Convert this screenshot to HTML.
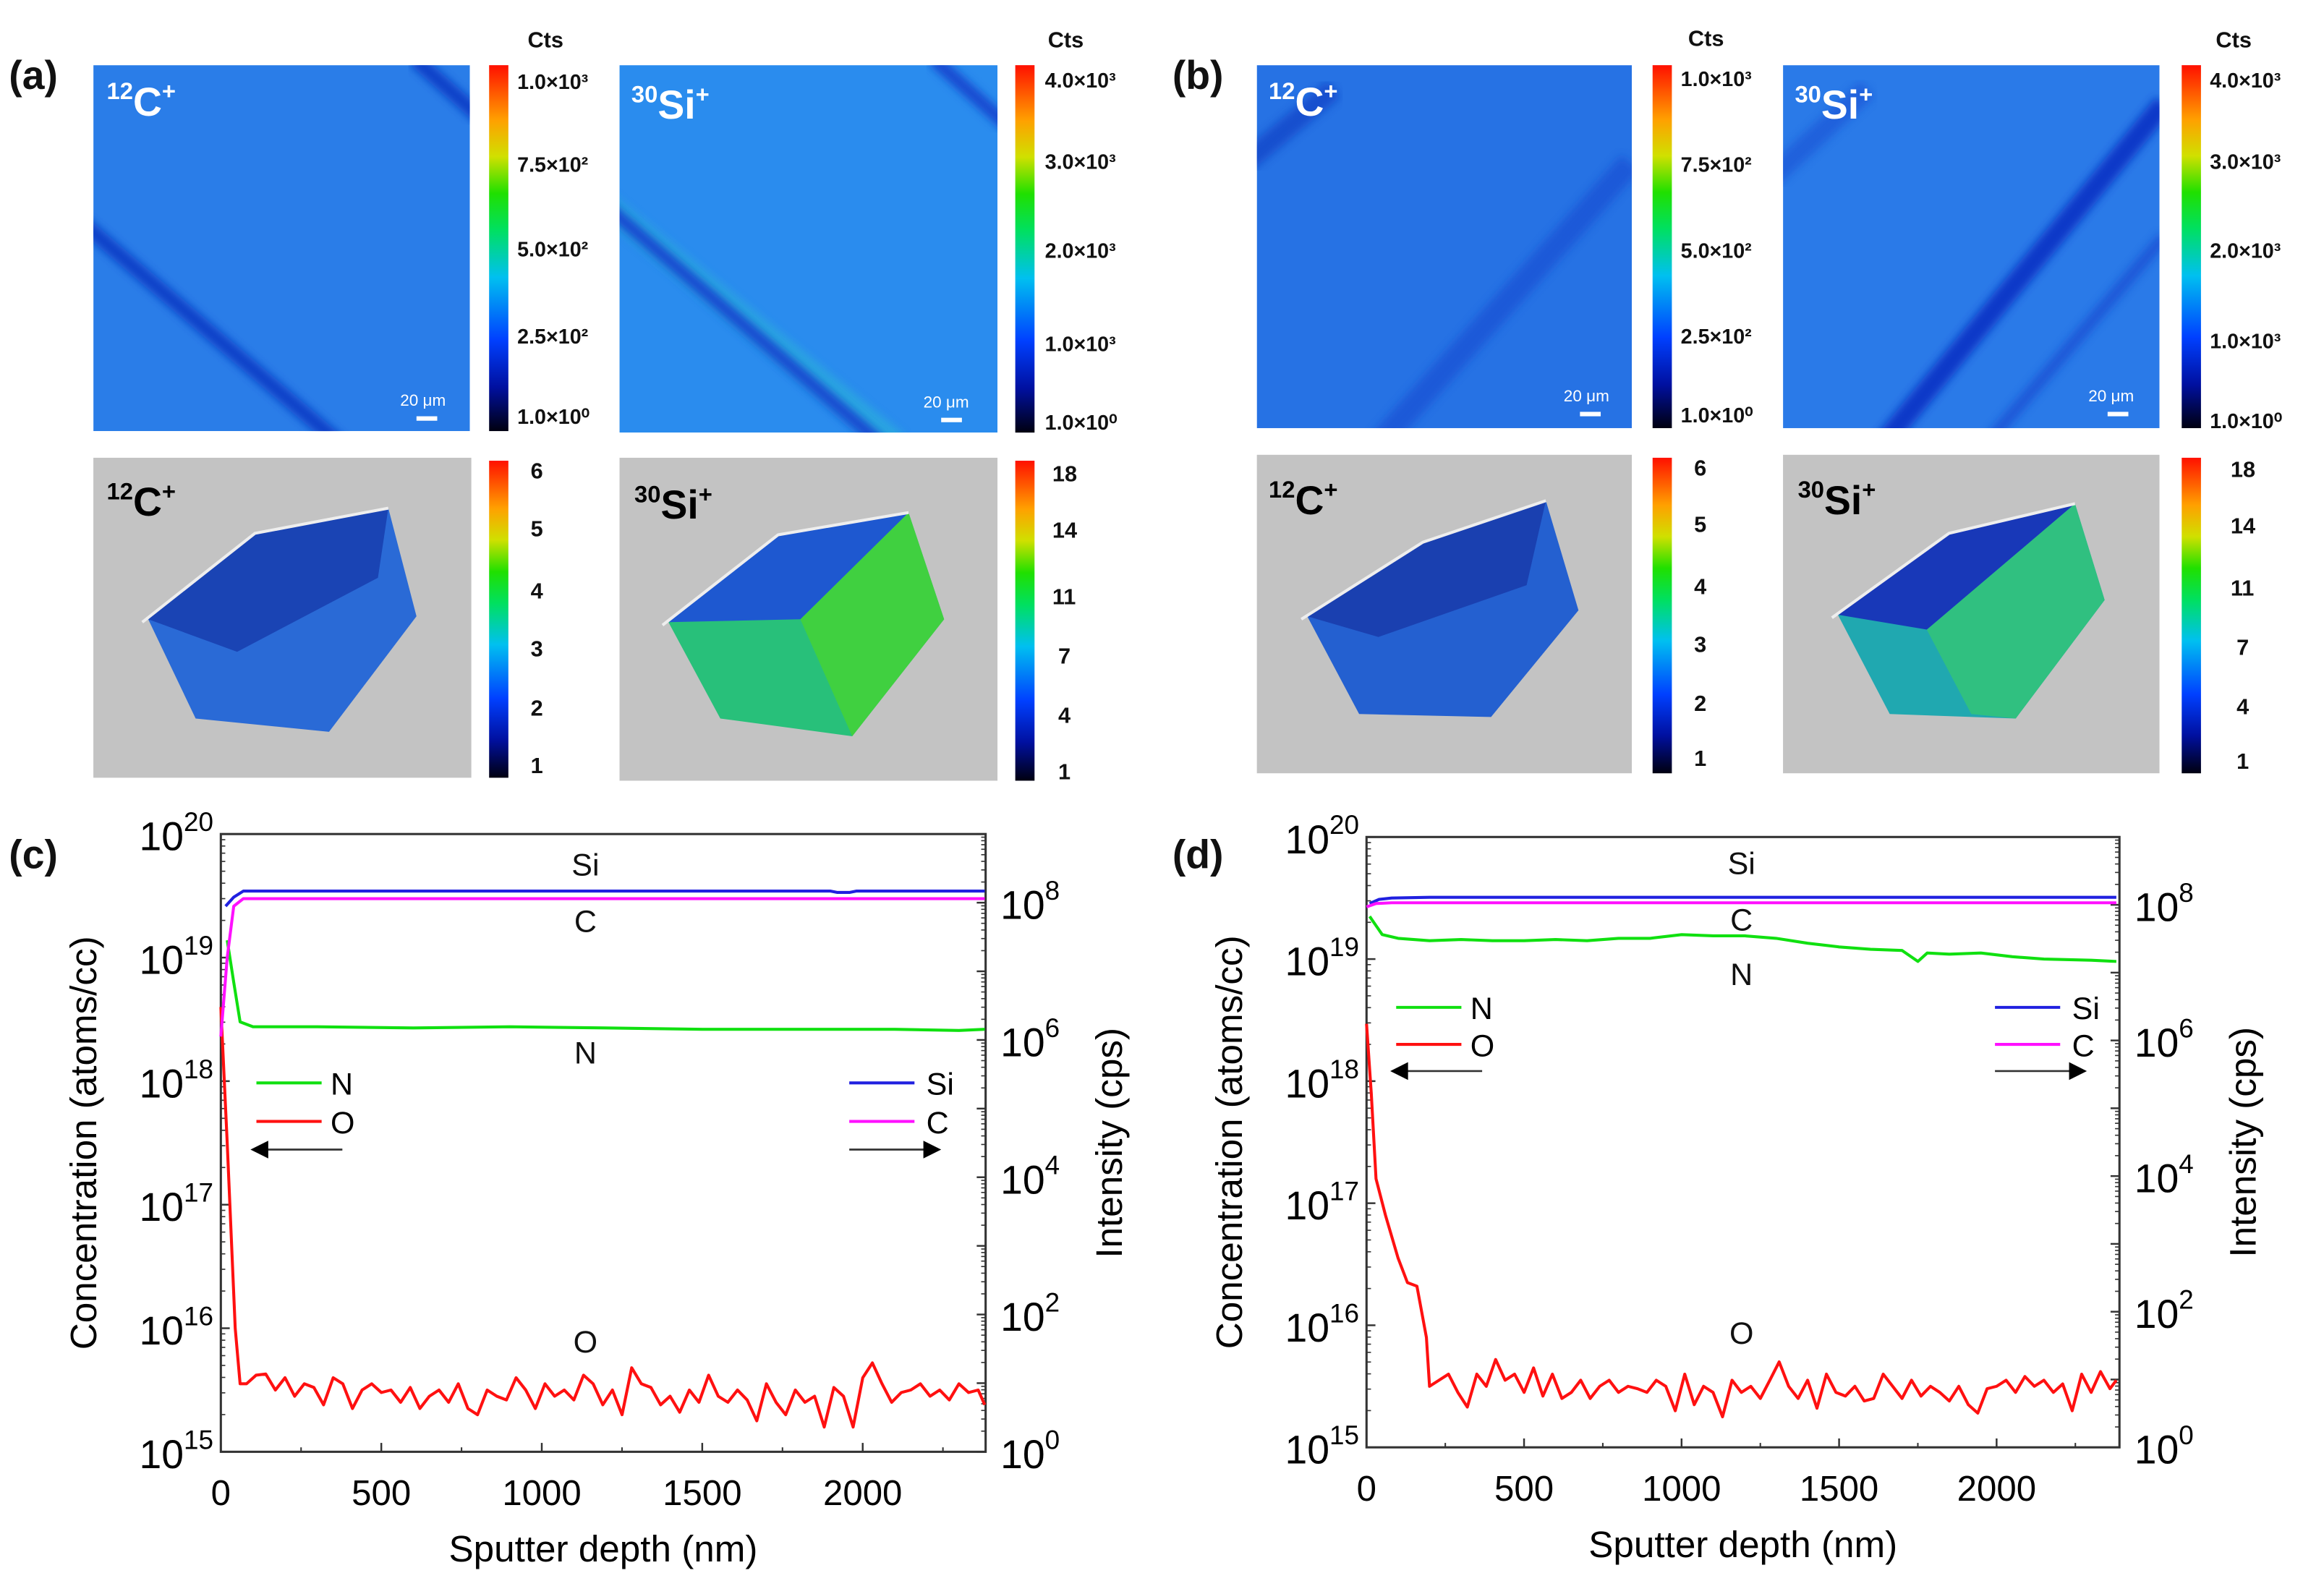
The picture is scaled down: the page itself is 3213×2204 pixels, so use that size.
<!DOCTYPE html>
<html><head><meta charset="utf-8"><style>
html,body{margin:0;padding:0;background:#fff;}
svg{display:block;font-family:"Liberation Sans",Arial,sans-serif;}
.tk{font-size:24px;fill:#000;}
.cb{font-size:14px;font-weight:bold;fill:#111;}
.cb3{font-size:15px;font-weight:bold;fill:#111;}
.pl{font-size:27px;font-weight:bold;fill:#111;}
</style></head><body>
<svg id="fig" width="3213" height="2204" viewBox="0 0 1568 1076" preserveAspectRatio="none">
<defs>
<linearGradient id="jet" x1="0" y1="1" x2="0" y2="0">
<stop offset="0" stop-color="#000010"/><stop offset="0.12" stop-color="#0010a0"/><stop offset="0.25" stop-color="#0040ff"/><stop offset="0.42" stop-color="#00c0f0"/><stop offset="0.55" stop-color="#00e060"/><stop offset="0.65" stop-color="#20e000"/><stop offset="0.75" stop-color="#d0e000"/><stop offset="0.85" stop-color="#ffa000"/><stop offset="1" stop-color="#ff1000"/>
</linearGradient>
<filter id="blur"><feGaussianBlur stdDeviation="3"/></filter>
<clipPath id="ca1"><rect x="63" y="44" width="254" height="247"/></clipPath>
<clipPath id="ca2"><rect x="418" y="44" width="255" height="248"/></clipPath>
<clipPath id="cb1"><rect x="848" y="44" width="253" height="245"/></clipPath>
<clipPath id="cb2"><rect x="1203" y="44" width="254" height="245"/></clipPath>
</defs>

<text class="pl" x="6" y="60">(a)</text>
<text class="pl" x="791" y="60">(b)</text>
<text class="pl" x="6" y="586">(c)</text>
<text class="pl" x="791" y="586">(d)</text>

<g clip-path="url(#ca1)">
<rect x="63" y="44" width="254" height="247" fill="#2a7de8"/>
<line x1="55" y1="150" x2="230" y2="300" stroke="#1040c8" stroke-width="10" filter="url(#blur)"/>
<line x1="280" y1="40" x2="325" y2="80" stroke="#1040c8" stroke-width="10" filter="url(#blur)"/>
</g>
<text x="72" y="78" font-size="27" font-weight="bold" fill="#fff"><tspan font-size="16" dy="-11">12</tspan><tspan dy="11">C</tspan><tspan font-size="16" dy="-11">+</tspan></text>
<text x="270" y="274" font-size="11" fill="#fff">20 μm</text><rect x="281" y="281" width="14" height="3" fill="#fff"/>
<g clip-path="url(#ca2)">
<rect x="418" y="44" width="255" height="248" fill="#2a8cee"/>
<line x1="405" y1="135" x2="605" y2="300" stroke="#2ab8d8" stroke-width="16" filter="url(#blur)" opacity="0.6"/>
<line x1="410" y1="140" x2="595" y2="300" stroke="#1448d0" stroke-width="9" filter="url(#blur)"/>
<line x1="630" y1="40" x2="680" y2="85" stroke="#1448d0" stroke-width="9" filter="url(#blur)"/>
</g>
<text x="426" y="80" font-size="27" font-weight="bold" fill="#fff"><tspan font-size="16" dy="-11">30</tspan><tspan dy="11">Si</tspan><tspan font-size="16" dy="-11">+</tspan></text>
<text x="623" y="275" font-size="11" fill="#fff">20 μm</text><rect x="635" y="282" width="14" height="3" fill="#fff"/>

<g clip-path="url(#cb1)">
<rect x="848" y="44" width="253" height="245" fill="#2672e4"/>
<line x1="840" y1="110" x2="900" y2="60" stroke="#1038c0" stroke-width="14" filter="url(#blur)" opacity="0.6"/>
<line x1="930" y1="300" x2="1100" y2="110" stroke="#1448d0" stroke-width="16" filter="url(#blur)" opacity="0.6"/>
</g>
<text x="856" y="78" font-size="27" font-weight="bold" fill="#fff"><tspan font-size="16" dy="-11">12</tspan><tspan dy="11">C</tspan><tspan font-size="16" dy="-11">+</tspan></text>
<text x="1055" y="271" font-size="11" fill="#fff">20 μm</text><rect x="1066" y="278" width="14" height="3" fill="#fff"/>
<g clip-path="url(#cb2)">
<rect x="1203" y="44" width="254" height="245" fill="#2a7ae8"/>
<line x1="1270" y1="300" x2="1460" y2="70" stroke="#1038c8" stroke-width="14" filter="url(#blur)"/>
<line x1="1340" y1="300" x2="1460" y2="160" stroke="#1448d0" stroke-width="8" filter="url(#blur)" opacity="0.7"/>
<line x1="1195" y1="120" x2="1260" y2="60" stroke="#1448d0" stroke-width="14" filter="url(#blur)" opacity="0.5"/>
</g>
<text x="1211" y="80" font-size="27" font-weight="bold" fill="#fff"><tspan font-size="16" dy="-11">30</tspan><tspan dy="11">Si</tspan><tspan font-size="16" dy="-11">+</tspan></text>
<text x="1409" y="271" font-size="11" fill="#fff">20 μm</text><rect x="1422" y="278" width="14" height="3" fill="#fff"/>

<rect x="63" y="309" width="255" height="216" fill="#c3c3c3"/>
<polygon points="100,418 172,360 262,343 281,416 222,494 132,485" fill="#2a6ad6"/>
<polygon points="100,418 172,360 262,343 255,390 160,440" fill="#1a44b4"/>
<polyline points="96,420 172,360 262,343" fill="none" stroke="#eee" stroke-width="2"/>
<text x="72" y="348" font-size="27" font-weight="bold" fill="#000"><tspan font-size="16" dy="-11">12</tspan><tspan dy="11">C</tspan><tspan font-size="16" dy="-11">+</tspan></text>

<rect x="418" y="309" width="255" height="218" fill="#c3c3c3"/>
<polygon points="451,420 525,361 613,346 637,418 575,497 486,485" fill="#28c07a"/>
<polygon points="540,418 613,346 637,418 575,497" fill="#40d040"/>
<polygon points="451,420 525,361 613,346 540,418" fill="#1e58d0"/>
<polyline points="447,422 525,361 613,346" fill="none" stroke="#eee" stroke-width="2"/>
<text x="428" y="350" font-size="27" font-weight="bold" fill="#000"><tspan font-size="16" dy="-11">30</tspan><tspan dy="11">Si</tspan><tspan font-size="16" dy="-11">+</tspan></text>

<rect x="848" y="307" width="253" height="215" fill="#c3c3c3"/>
<polygon points="882,416 960,366 1043,338 1065,412 1006,484 917,482" fill="#2460d0"/>
<polygon points="882,416 960,366 1043,338 1030,395 930,430" fill="#1a40b0"/>
<polyline points="878,418 960,366 1043,338" fill="none" stroke="#eee" stroke-width="2"/>
<text x="856" y="347" font-size="27" font-weight="bold" fill="#000"><tspan font-size="16" dy="-11">12</tspan><tspan dy="11">C</tspan><tspan font-size="16" dy="-11">+</tspan></text>

<rect x="1203" y="307" width="254" height="215" fill="#c3c3c3"/>
<polygon points="1240,415 1315,360 1400,340 1420,405 1360,485 1275,482" fill="#20a8b0"/>
<polygon points="1300,425 1400,340 1420,405 1360,485 1330,482" fill="#30c080"/>
<polygon points="1240,415 1315,360 1400,340 1300,425" fill="#1838b8"/>
<polyline points="1236,417 1315,360 1400,340" fill="none" stroke="#eee" stroke-width="2"/>
<text x="1213" y="347" font-size="27" font-weight="bold" fill="#000"><tspan font-size="16" dy="-11">30</tspan><tspan dy="11">Si</tspan><tspan font-size="16" dy="-11">+</tspan></text>

<g>
<rect x="330" y="44" width="13" height="247" fill="url(#jet)"/>
<rect x="685" y="44" width="13" height="248" fill="url(#jet)"/>
<rect x="1115" y="44" width="13" height="245" fill="url(#jet)"/>
<rect x="1472" y="44" width="13" height="245" fill="url(#jet)"/>
<rect x="330" y="311" width="13" height="214" fill="url(#jet)"/>
<rect x="685" y="311" width="13" height="216" fill="url(#jet)"/>
<rect x="1115" y="309" width="13" height="213" fill="url(#jet)"/>
<rect x="1472" y="309" width="13" height="213" fill="url(#jet)"/>
<text class="cb3" x="356" y="32">Cts</text><text class="cb3" x="707" y="32">Cts</text>
<text class="cb3" x="1139" y="31">Cts</text><text class="cb3" x="1495" y="32">Cts</text>
<g class="cb">
<text x="349" y="60">1.0×10³</text><text x="349" y="116">7.5×10²</text><text x="349" y="173">5.0×10²</text><text x="349" y="232">2.5×10²</text><text x="349" y="286">1.0×10⁰</text>
<text x="705" y="59">4.0×10³</text><text x="705" y="114">3.0×10³</text><text x="705" y="174">2.0×10³</text><text x="705" y="237">1.0×10³</text><text x="705" y="290">1.0×10⁰</text>
<text x="1134" y="58">1.0×10³</text><text x="1134" y="116">7.5×10²</text><text x="1134" y="174">5.0×10²</text><text x="1134" y="232">2.5×10²</text><text x="1134" y="285">1.0×10⁰</text>
<text x="1491" y="59">4.0×10³</text><text x="1491" y="114">3.0×10³</text><text x="1491" y="174">2.0×10³</text><text x="1491" y="235">1.0×10³</text><text x="1491" y="289">1.0×10⁰</text>
</g>
<g class="cb3">
<text x="358" y="323">6</text><text x="358" y="362">5</text><text x="358" y="404">4</text><text x="358" y="443">3</text><text x="358" y="483">2</text><text x="358" y="522">1</text>
<text x="710" y="325">18</text><text x="710" y="363">14</text><text x="710" y="408">11</text><text x="714" y="448">7</text><text x="714" y="488">4</text><text x="714" y="526">1</text>
<text x="1143" y="321">6</text><text x="1143" y="359">5</text><text x="1143" y="401">4</text><text x="1143" y="440">3</text><text x="1143" y="480">2</text><text x="1143" y="517">1</text>
<text x="1505" y="322">18</text><text x="1505" y="360">14</text><text x="1505" y="402">11</text><text x="1509" y="442">7</text><text x="1509" y="482">4</text><text x="1509" y="519">1</text>
</g>
</g>

<g id="plotC"></g>
<g id="plotD"></g>
</svg>
<script>
// ---- data: plot (c) ----
const cODepth = [0,20,45,60,80,110,140,170,200,230,260,290,320,350,380,410,440,470,500,530,560,590,620,650,680,710,740,770,800,830,860,890,920,950,980,1010,1040,1070,1100,1130,1160,1190,1220,1250,1280,1310,1340,1370,1400,1430,1460,1490,1520,1550,1580,1610,1640,1670,1700,1730,1760,1790,1820,1850,1880,1910,1940,1970,2000,2030,2060,2090,2120,2150,2180,2210,2240,2270,2300,2330,2360,2380];
const cOLog = [18.6,17.5,16.0,15.55,15.55,15.62,15.63,15.5,15.6,15.45,15.55,15.52,15.38,15.6,15.55,15.35,15.5,15.55,15.48,15.5,15.4,15.52,15.35,15.45,15.5,15.4,15.55,15.35,15.3,15.5,15.45,15.42,15.6,15.5,15.35,15.55,15.45,15.5,15.42,15.62,15.55,15.38,15.5,15.3,15.68,15.55,15.52,15.38,15.45,15.32,15.5,15.4,15.62,15.45,15.4,15.5,15.42,15.25,15.55,15.4,15.3,15.5,15.4,15.45,15.2,15.52,15.45,15.2,15.6,15.72,15.55,15.4,15.48,15.5,15.55,15.45,15.5,15.42,15.55,15.48,15.5,15.38];
const cNDepth = [20,40,60,100,300,600,900,1200,1500,1800,2100,2300,2380];
const cNLog = [19.14,18.8,18.48,18.44,18.44,18.43,18.44,18.43,18.42,18.42,18.42,18.41,18.42];
const cSiDepth = [15,40,70,100,1000,1900,1920,1960,1980,2380];
const cSiLog = [7.95,8.08,8.17,8.17,8.17,8.17,8.15,8.15,8.17,8.17];
const cCDepth = [0,20,40,70,100,2380];
const cCLog = [6.05,7.2,7.95,8.06,8.06,8.06];
// ---- data: plot (d) ----
const dODepth = [0,15,30,60,100,130,160,190,200,230,260,290,320,350,380,410,440,470,500,530,560,590,620,650,680,710,740,770,800,830,860,890,920,950,980,1010,1040,1070,1100,1130,1160,1190,1220,1250,1280,1310,1340,1370,1400,1430,1460,1490,1520,1550,1580,1610,1640,1670,1700,1730,1760,1790,1820,1850,1880,1910,1940,1970,2000,2030,2060,2090,2120,2150,2180,2210,2240,2270,2300,2330,2360,2380];
const dOLog = [18.47,17.9,17.2,16.9,16.55,16.35,16.32,15.9,15.5,15.55,15.6,15.45,15.33,15.6,15.5,15.72,15.55,15.6,15.45,15.65,15.42,15.6,15.4,15.45,15.55,15.4,15.5,15.55,15.45,15.5,15.48,15.45,15.55,15.5,15.3,15.6,15.35,15.5,15.45,15.25,15.55,15.45,15.5,15.4,15.55,15.7,15.5,15.4,15.55,15.32,15.6,15.45,15.42,15.5,15.38,15.4,15.6,15.5,15.4,15.55,15.42,15.5,15.45,15.38,15.5,15.35,15.28,15.48,15.5,15.55,15.45,15.58,15.5,15.55,15.45,15.52,15.3,15.6,15.45,15.62,15.48,15.55];
const dNDepth = [10,50,100,200,300,400,500,600,700,800,900,1000,1100,1200,1300,1400,1500,1600,1700,1750,1780,1850,1950,2050,2150,2300,2380];
const dNLog = [19.35,19.2,19.17,19.15,19.16,19.15,19.15,19.16,19.15,19.17,19.17,19.2,19.19,19.19,19.17,19.13,19.1,19.08,19.07,18.98,19.05,19.04,19.05,19.02,19.0,18.99,18.98];
const dSiDepth = [10,40,80,200,2380];
const dSiLog = [8.02,8.08,8.1,8.11,8.11];
const dCDepth = [0,30,80,2380];
const dCLog = [7.97,8.02,8.03,8.03];
// ---- axis tick labels ----
const xTicks = [0,500,1000,1500,2000];
const leftExp = [15,16,17,18,19,20];
const rightExp = [0,2,4,6,8];

const NS = 'http://www.w3.org/2000/svg';
function mk(parent, tag, attrs, text){
  const el = document.createElementNS(NS, tag);
  for (const k in attrs) el.setAttribute(k, attrs[k]);
  if (text !== undefined) el.textContent = text;
  parent.appendChild(el);
  return el;
}
function drawPlot(g, P){
  const xs = d => P.x0 + (d/P.xmax)*(P.x1-P.x0);
  const yl = v => P.y1 - (v-15)/5*(P.y1-P.y0);
  const yr = v => P.y1 - (v/P.rmax)*(P.y1-P.y0);
  const fr = mk(g,'rect',{x:P.x0,y:P.y0,width:P.x1-P.x0,height:P.y1-P.y0,fill:'none',stroke:'#333','stroke-width':1.5});
  
  
  xTicks.forEach(t=>{
    mk(g,'line',{x1:xs(t),y1:P.y1,x2:xs(t),y2:P.y1-6,stroke:'#333','stroke-width':1.2});
    const lb = mk(g,'text',{x:xs(t),y:P.y1+36,'text-anchor':'middle',class:'tk'},String(t));
    
    
  });
  for (let t=250;t<P.xmax;t+=500) mk(g,'line',{x1:xs(t),y1:P.y1,x2:xs(t),y2:P.y1-3,stroke:'#333'});
  leftExp.forEach(e=>{
    mk(g,'line',{x1:P.x0,y1:yl(e),x2:P.x0+6,y2:yl(e),stroke:'#333','stroke-width':1.2});
    if (e<20) for (let m=2;m<10;m++){ const yy=yl(e+Math.log10(m)); mk(g,'line',{x1:P.x0,y1:yy,x2:P.x0+3,y2:yy,stroke:'#333','stroke-width':0.8}); }
    const lb = mk(g,'text',{x:P.x0-5,y:yl(e)+11,'text-anchor':'end',class:'tk'});
    
    
    mk(lb,'tspan',{'font-size':27},'10');
    mk(lb,'tspan',{'font-size':18,dy:-13},String(e));
  });
  for (let e=0;e<=P.rmax;e++){
    mk(g,'line',{x1:P.x1,y1:yr(e),x2:P.x1-6,y2:yr(e),stroke:'#333','stroke-width':1.2});
    if (e<P.rmax) for (let m=2;m<10;m++){ const yy=yr(e+Math.log10(m)); mk(g,'line',{x1:P.x1,y1:yy,x2:P.x1-3,y2:yy,stroke:'#333','stroke-width':0.8}); }
  }
  rightExp.forEach(e=>{
    const lb = mk(g,'text',{x:P.x1+10,y:yr(e)+11,class:'tk'});
    
    
    mk(lb,'tspan',{'font-size':27},'10');
    mk(lb,'tspan',{'font-size':18,dy:-13},String(e));
  });
  const series = [
    {d:P.O[0],v:P.O[1],f:yl,c:'#ff1010',n:'series-o'},
    {d:P.N[0],v:P.N[1],f:yl,c:'#10e010',n:'series-n'},
    {d:P.Si[0],v:P.Si[1],f:yr,c:'#2020e0',n:'series-si'},
    {d:P.C[0],v:P.C[1],f:yr,c:'#ff10ff',n:'series-c'}];
  series.forEach(s=>{
    const n = Math.min(s.d.length,s.v.length);
    let p='';
    for (let i=0;i<n;i++) p += (i?'L':'M')+xs(s.d[i]).toFixed(1)+','+s.f(s.v[i]).toFixed(1);
    const el = mk(g,'path',{d:p,fill:'none',stroke:s.c,'stroke-width':2,'stroke-linejoin':'round'});
    
    
  });
  P.ann.forEach(a=>{ mk(g,'text',{x:a[1],y:a[2],'text-anchor':'middle','font-size':21,fill:'#111'},a[0]); });
  const L = P.leg;
  const lg = mk(g,'g',{});
  
  
  mk(lg,'line',{x1:L.lx,y1:L.y1,x2:L.lx+44,y2:L.y1,stroke:'#10e010','stroke-width':2});
  mk(lg,'text',{x:L.lx+50,y:L.y1+8,'font-size':21},'N');
  mk(lg,'line',{x1:L.lx,y1:L.y2,x2:L.lx+44,y2:L.y2,stroke:'#ff1010','stroke-width':2});
  mk(lg,'text',{x:L.lx+50,y:L.y2+8,'font-size':21},'O');
  mk(lg,'line',{x1:L.lx,y1:L.y3,x2:L.lx+58,y2:L.y3,stroke:'#333','stroke-width':1.3});
  mk(lg,'polygon',{points:`${L.lx-4},${L.y3} ${L.lx+8},${L.y3-6} ${L.lx+8},${L.y3+6}`,fill:'#000'});
  mk(lg,'line',{x1:L.rx,y1:L.y1,x2:L.rx+44,y2:L.y1,stroke:'#2020e0','stroke-width':2});
  mk(lg,'text',{x:L.rx+52,y:L.y1+8,'font-size':21},'Si');
  mk(lg,'line',{x1:L.rx,y1:L.y2,x2:L.rx+44,y2:L.y2,stroke:'#ff10ff','stroke-width':2});
  mk(lg,'text',{x:L.rx+52,y:L.y2+8,'font-size':21},'C');
  mk(lg,'line',{x1:L.rx,y1:L.y3,x2:L.rx+58,y2:L.y3,stroke:'#333','stroke-width':1.3});
  mk(lg,'polygon',{points:`${L.rx+62},${L.y3} ${L.rx+50},${L.y3-6} ${L.rx+50},${L.y3+6}`,fill:'#000'});
  const cy=(P.y0+P.y1)/2;
  const xt = mk(g,'text',{x:(P.x0+P.x1)/2,y:P.y1+74,'text-anchor':'middle','font-size':25},'Sputter depth (nm)');
   
  const yt = mk(g,'text',{x:P.x0-84,y:cy,'text-anchor':'middle','font-size':25,transform:`rotate(-90 ${P.x0-84} ${cy})`},'Concentration (atoms/cc)');
   
  const rt = mk(g,'text',{x:P.x1+92,y:cy,'text-anchor':'middle','font-size':25,transform:`rotate(-90 ${P.x1+92} ${cy})`},'Intensity (cps)');
   
}
drawPlot(document.getElementById('plotC'),{x0:149,x1:665,y0:563,y1:980,xmax:2383,rmax:9,
  O:[cODepth,cOLog],N:[cNDepth,cNLog],Si:[cSiDepth,cSiLog],C:[cCDepth,cCLog],
  ann:[['Si',395,591],['C',395,629],['N',395,718],['O',395,913]],
  leg:{lx:173,rx:573,y1:731,y2:757,y3:776}});
drawPlot(document.getElementById('plotD'),{x0:922,x1:1430,y0:565,y1:977,xmax:2390,rmax:9,
  O:[dODepth,dOLog],N:[dNDepth,dNLog],Si:[dSiDepth,dSiLog],C:[dCDepth,dCLog],
  ann:[['Si',1175,590],['C',1175,628],['N',1175,665],['O',1175,907]],
  leg:{lx:942,rx:1346,y1:680,y2:705,y3:723}});
</script>
</body></html>
